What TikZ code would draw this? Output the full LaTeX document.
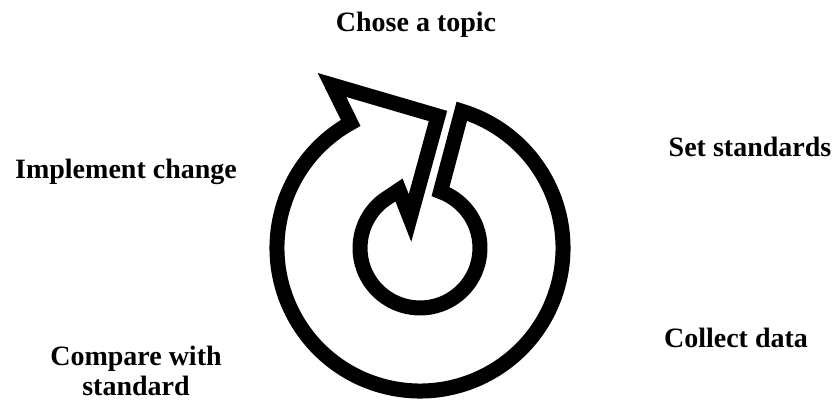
\documentclass[tikz,border=0pt]{standalone}
\usepackage{fontspec}
\setmainfont{Liberation Serif}
\usetikzlibrary{calc}
\tikzset{
  stagelabel/.style={font=\fontsize{14}{15}\selectfont\bfseries, align=center, anchor=base, inner sep=0pt},
  spiralband/.style={line width=7.5pt, line join=miter, miter limit=10}
}
\begin{document}
\begin{tikzpicture}[x=0.5pt, y=0.5pt]
  \useasboundingbox (0,0) rectangle (836,400);
  \coordinate (C) at (420,152);
  \coordinate (A) at (332,315);
  \coordinate (K) at (438,284);
  \coordinate (T) at (410,182);
  \coordinate (B) at (399,210);

  \draw[spiralband] ($(C)+(70:60)$) -- ($(C)+(73:143)$)
    arc[start angle=73, end angle=-241, radius=143]
    -- (A) -- (K) -- (T) -- (B) -- ($(C)+(128:60)$)
    arc[start angle=128, end angle=430, radius=60] -- cycle;

  \node[stagelabel] (topic) at (416,368) {Chose a topic};
  \node[stagelabel] (standards) at (750,243) {Set standards};
  \node[stagelabel] (collect) at (736,52) {Collect data};
  \node[stagelabel] (compare) at (136,4) {Compare with\\standard};
  \node[stagelabel] (implement) at (126,221) {Implement change};
\end{tikzpicture}
\end{document}
